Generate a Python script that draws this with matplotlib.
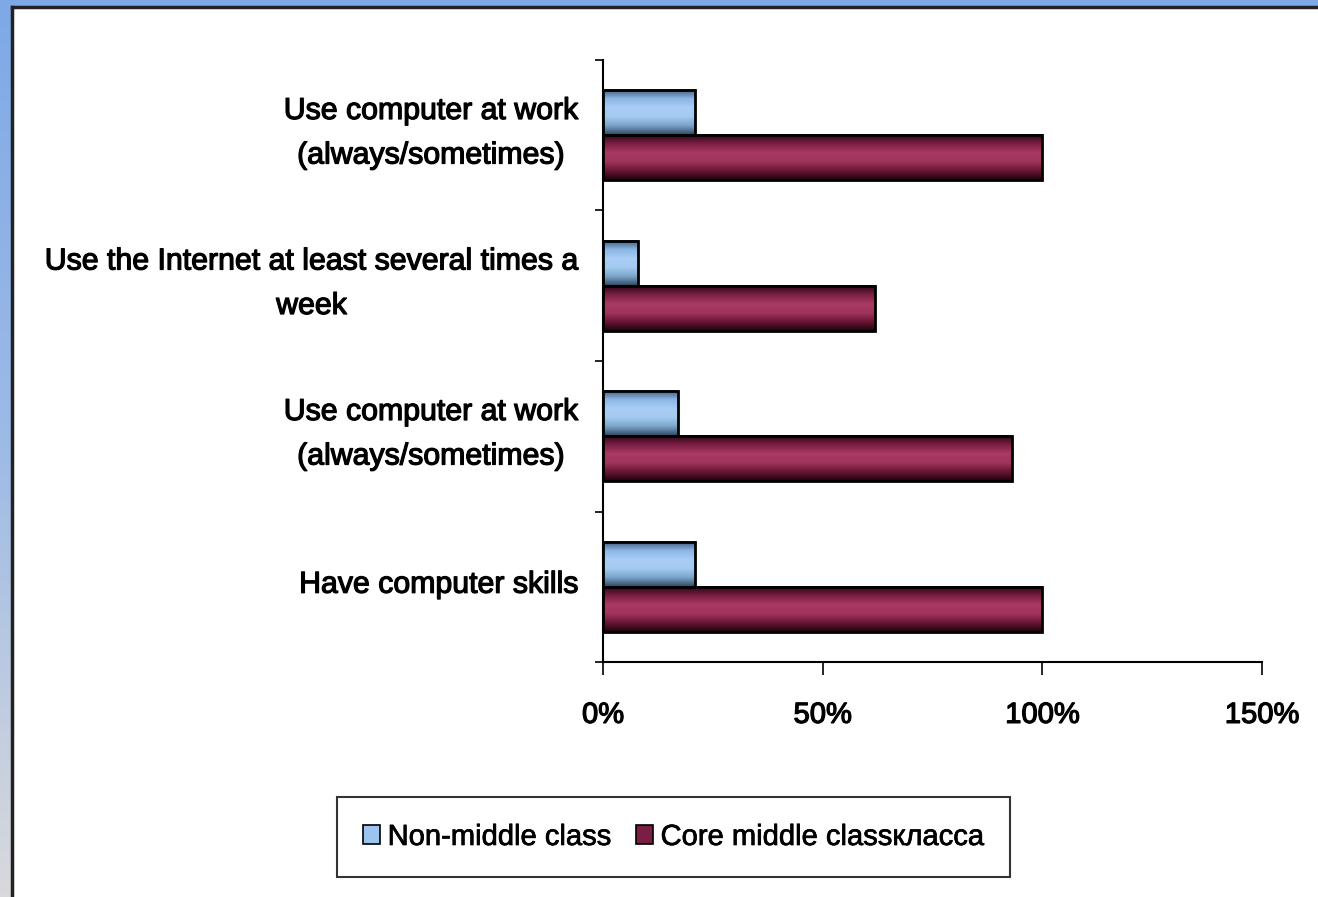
import numpy as np
import matplotlib
matplotlib.use("Agg")
import matplotlib.pyplot as plt
import matplotlib.patheffects as pe
from matplotlib.patches import Patch
from matplotlib.colors import LinearSegmentedColormap

# ---- data (bottom to top) ----
categories = [
    "Have computer skills",
    "Use computer at work\n(always/sometimes)",
    "Use the Internet at least several times a\nweek",
    "Use computer at work\n(always/sometimes)",
]
non_middle = [21, 17, 8, 21]
core_middle = [100, 93, 62, 100]
series_labels = ["Non-middle class", "Core middle classкласса"]
xticks = [0, 50, 100, 150]
xtick_labels = ["0%", "50%", "100%", "150%"]

FONT = ["Liberation Sans", "DejaVu Sans"]
plt.rcParams["font.family"] = FONT
HEAVY = [pe.Stroke(linewidth=0.9, foreground="black"), pe.Normal()]

W, H = 1318, 897
fig = plt.figure(figsize=(W / 100, H / 100), dpi=100, facecolor="#7ea9e6")

# left strip gradient (blue to grey)
strip = fig.add_axes([0, 0, 12 / W, 1])
grad = np.linspace(0, 1, 256).reshape(-1, 1)
strip_cmap = LinearSegmentedColormap.from_list("s", ["#7ea9e6", "#9dbbe6", "#d9d9dc"])
strip.imshow(grad, cmap=strip_cmap, aspect="auto", extent=(0, 1, 0, 1), origin="upper")
strip.axis("off")
strip.set_zorder(0)

# white inner panel with dark border
panel = fig.add_axes([12 / W, 0, 1 - 12 / W, 1 - 7 / H])
panel.set_xticks([]); panel.set_yticks([])
panel.set_facecolor("white")
for s in panel.spines.values():
    s.set_color("#222222"); s.set_linewidth(2.5)
panel.spines["bottom"].set_visible(False)
panel.spines["right"].set_visible(False)
panel.set_zorder(1)

ax = fig.add_axes([603 / W, 1 - 662 / H, (1262 - 603) / W, (662 - 60) / H])
ax.set_facecolor("none")
ax.set_zorder(3)

y = np.arange(len(categories))
h = 0.3
b1 = ax.barh(y + h / 2, non_middle, height=h, facecolor="none",
             edgecolor="black", linewidth=2, zorder=3)
b2 = ax.barh(y - h / 2, core_middle, height=h, facecolor="none",
             edgecolor="black", linewidth=2, zorder=3)

blue_cmap = LinearSegmentedColormap.from_list(
    "b", ["#3d5a78", "#8cb6e6", "#a9cdf5", "#a3cbf0", "#7aa3c8", "#2f4660"])
red_cmap = LinearSegmentedColormap.from_list(
    "r", ["#2a0512", "#7a1e44", "#a83a63", "#a0345c", "#6a1636", "#1e030c"])
vgrad = np.linspace(0, 1, 64).reshape(-1, 1)
for bars, cm in ((b1, blue_cmap), (b2, red_cmap)):
    for r in bars:
        x0, y0, w_, h_ = r.get_x(), r.get_y(), r.get_width(), r.get_height()
        ax.imshow(vgrad, cmap=cm, aspect="auto", interpolation="bicubic",
                  extent=(x0, x0 + w_, y0, y0 + h_), origin="upper", zorder=2)

ax.set_xlim(0, 150)
ax.set_ylim(-0.5, len(categories) - 0.5)

for s in ("top", "right"):
    ax.spines[s].set_visible(False)
for s in ("left", "bottom"):
    ax.spines[s].set_linewidth(1.5)
    ax.spines[s].set_color("black")

ax.set_xticks(xticks)
ax.set_xticklabels(xtick_labels, fontsize=21)
ax.tick_params(axis="x", direction="out", length=9, width=1.2, pad=19)
for t in ax.get_xticklabels():
    t.set_path_effects(HEAVY)

# y: ticks at boundaries, labels at centers
ax.set_yticks(np.arange(len(categories) + 1) - 0.5)
ax.set_yticklabels([])
ax.tick_params(axis="y", direction="out", length=6, width=1.2)
for i, lab in enumerate(categories):
    ax.annotate(lab, xy=(0, i), xycoords=("axes fraction", "data"),
                xytext=(-25, 2), textcoords="offset pixels",
                ha="right", va="center", multialignment="center",
                fontsize=21.8, linespacing=1.75, color="black",
                path_effects=HEAVY)

handles = [Patch(facecolor="#9cc4ee", edgecolor="black", linewidth=1.2),
           Patch(facecolor="#7a1e44", edgecolor="black", linewidth=1.2)]
leg = fig.legend(handles, series_labels, loc="center",
                 bbox_to_anchor=(673.5 / W, 1 - 837 / H), ncol=2,
                 fontsize=21, frameon=True, fancybox=False,
                 handlelength=0.6, handleheight=0.6, handletextpad=0.25,
                 columnspacing=0.85, borderpad=0.9)
leg.get_frame().set_edgecolor("black")
leg.get_frame().set_linewidth(1.5)
leg.set_zorder(4)
for t in leg.get_texts():
    t.set_path_effects([pe.Stroke(linewidth=0.5, foreground="black"), pe.Normal()])

fig.savefig("out.png", dpi=100, facecolor=fig.get_facecolor())
